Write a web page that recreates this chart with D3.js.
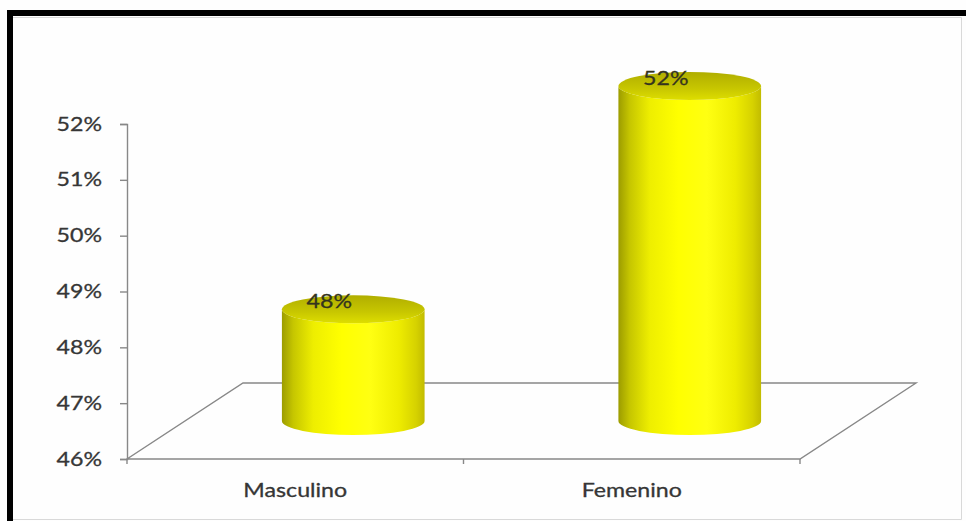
<!DOCTYPE html>
<html>
<head>
<meta charset="utf-8">
<script src="https://cdn.jsdelivr.net/npm/d3@7"></script>
<style>
  html, body { margin: 0; padding: 0; background: #ffffff; }
  svg { display: block; }
</style>
</head>
<body>
<svg id="chart" width="966" height="521"></svg>
<script>
// Distribution by sex
const categories = ["Masculino", "Femenino"];
const values = [0.48, 0.52];
const yTicks = [0.46, 0.47, 0.48, 0.49, 0.50, 0.51, 0.52];
const valueLabels = ["48%", "52%"];

const svg = d3.select("#chart");
const W = 966, H = 521;

// plot frame geometry (front plane) and 3D depth offset
const plot = { left: 127, right: 800, top: 124, bottom: 459 };
const depth = { dx: 116, dy: -76 };
const textColor = "#363636";
const axisColor = "#888888";
const fontFamily = "Lato, 'Open Sans', sans-serif";
const stretch = 1.22;

const y = d3.scaleLinear().domain([0.46, 0.52]).range([plot.bottom, plot.top]);
const x = d3.scaleBand().domain(categories).range([plot.left, plot.right]).padding(0);

svg.append("rect").attr("width", W).attr("height", H).attr("fill", "#fefefe");

// outer frame: heavy black top/left edge, thin grey inner edge
svg.append("line").attr("x1", 7).attr("x2", W).attr("y1", 13).attr("y2", 13)
  .attr("stroke", "#000").attr("stroke-width", 6);
svg.append("line").attr("x1", 10).attr("x2", 10).attr("y1", 10).attr("y2", H)
  .attr("stroke", "#000").attr("stroke-width", 6);
svg.append("path")
  .attr("d", `M13,17.5H961.5V519.5H13`)
  .attr("fill", "none").attr("stroke", "#d9d9d9").attr("stroke-width", 1);

// gradients for the cylinders
const defs = svg.append("defs");
const side = defs.append("linearGradient").attr("id", "cylSide")
  .attr("x1", "0").attr("x2", "1").attr("y1", "0").attr("y2", "0");
[[0, "#9c9c00"], [0.08, "#c6c600"], [0.22, "#eeee00"], [0.42, "#ffff00"],
 [0.62, "#ffff12"], [0.82, "#eeec00"], [0.94, "#d6d200"], [1, "#c2bc00"]]
  .forEach(([o, c]) => side.append("stop").attr("offset", o).attr("stop-color", c));
const topG = defs.append("linearGradient").attr("id", "cylTop")
  .attr("x1", "0").attr("x2", "0").attr("y1", "0").attr("y2", "1");
[[0, "#b0ae00"], [0.6, "#c8c700"], [1, "#dede00"]]
  .forEach(([o, c]) => topG.append("stop").attr("offset", o).attr("stop-color", c));

// floor of the 3D plot area
const floor = [
  [plot.left, plot.bottom],
  [plot.right, plot.bottom],
  [plot.right + depth.dx, plot.bottom + depth.dy],
  [plot.left + depth.dx, plot.bottom + depth.dy]
];
svg.append("path")
  .attr("d", d3.line()(floor) + "Z")
  .attr("fill", "none").attr("stroke", axisColor).attr("stroke-width", 1.4);

// vertical axis
const yAxis = svg.append("g")
  .attr("transform", `translate(${plot.left},0)`)
  .call(d3.axisLeft(y).tickValues(yTicks).tickFormat(d3.format(".0%")).tickSize(7).tickPadding(0));
yAxis.select(".domain").attr("stroke", axisColor).attr("stroke-width", 1.4);
yAxis.selectAll(".tick line").attr("stroke", axisColor).attr("stroke-width", 1.4);
yAxis.selectAll(".tick text")
  .attr("x", null).attr("dy", null)
  .attr("transform", `translate(-25,6) scale(${stretch},1)`)
  .attr("fill", textColor).attr("font-family", fontFamily).attr("font-size", 19)
  .attr("stroke", textColor).attr("stroke-width", 0.3);

// category axis: ticks on band edges, labels centred in bands
const edges = categories.map(c => x(c)).concat([plot.right]);
svg.append("g").selectAll("line").data(edges).join("line")
  .attr("x1", d => d).attr("x2", d => d)
  .attr("y1", plot.bottom).attr("y2", plot.bottom + 5)
  .attr("stroke", axisColor).attr("stroke-width", 1.4);
svg.append("g").selectAll("text").data(categories).join("text")
  .attr("transform", d => `translate(${x(d) + x.bandwidth() / 2},497) scale(${stretch},1)`)
  .attr("text-anchor", "middle")
  .attr("fill", textColor).attr("font-family", fontFamily).attr("font-size", 19)
  .attr("stroke", textColor).attr("stroke-width", 0.3)
  .text(d => d);

// cylinders standing in the middle of the plot depth
const rx = x.bandwidth() * 0.212, ry = 14;
const baseY = y(0.46) + depth.dy / 2;
const bars = svg.append("g").selectAll("g").data(categories).join("g");
bars.each(function (c, i) {
  const g = d3.select(this);
  const cx = x(c) + x.bandwidth() / 2 + depth.dx / 2;
  const topY = y(values[i]) + depth.dy / 2;
  g.append("path")
    .attr("d", `M${cx - rx},${topY}L${cx - rx},${baseY}` +
      `A${rx},${ry} 0 0 0 ${cx + rx},${baseY}` +
      `L${cx + rx},${topY}A${rx},${ry} 0 0 1 ${cx - rx},${topY}Z`)
    .attr("fill", "url(#cylSide)");
  g.append("ellipse")
    .attr("cx", cx).attr("cy", topY).attr("rx", rx).attr("ry", ry)
    .attr("fill", "url(#cylTop)");
  g.append("text")
    .attr("transform", `translate(${x(c) + x.bandwidth() / 2 + 34},${y(values[i]) - 39}) scale(${stretch},1)`)
    .attr("text-anchor", "middle")
    .attr("fill", "#34341e").attr("font-family", fontFamily).attr("font-size", 19)
    .attr("stroke", "#34341e").attr("stroke-width", 0.3)
    .text(valueLabels[i]);
});
</script>
</body>
</html>
